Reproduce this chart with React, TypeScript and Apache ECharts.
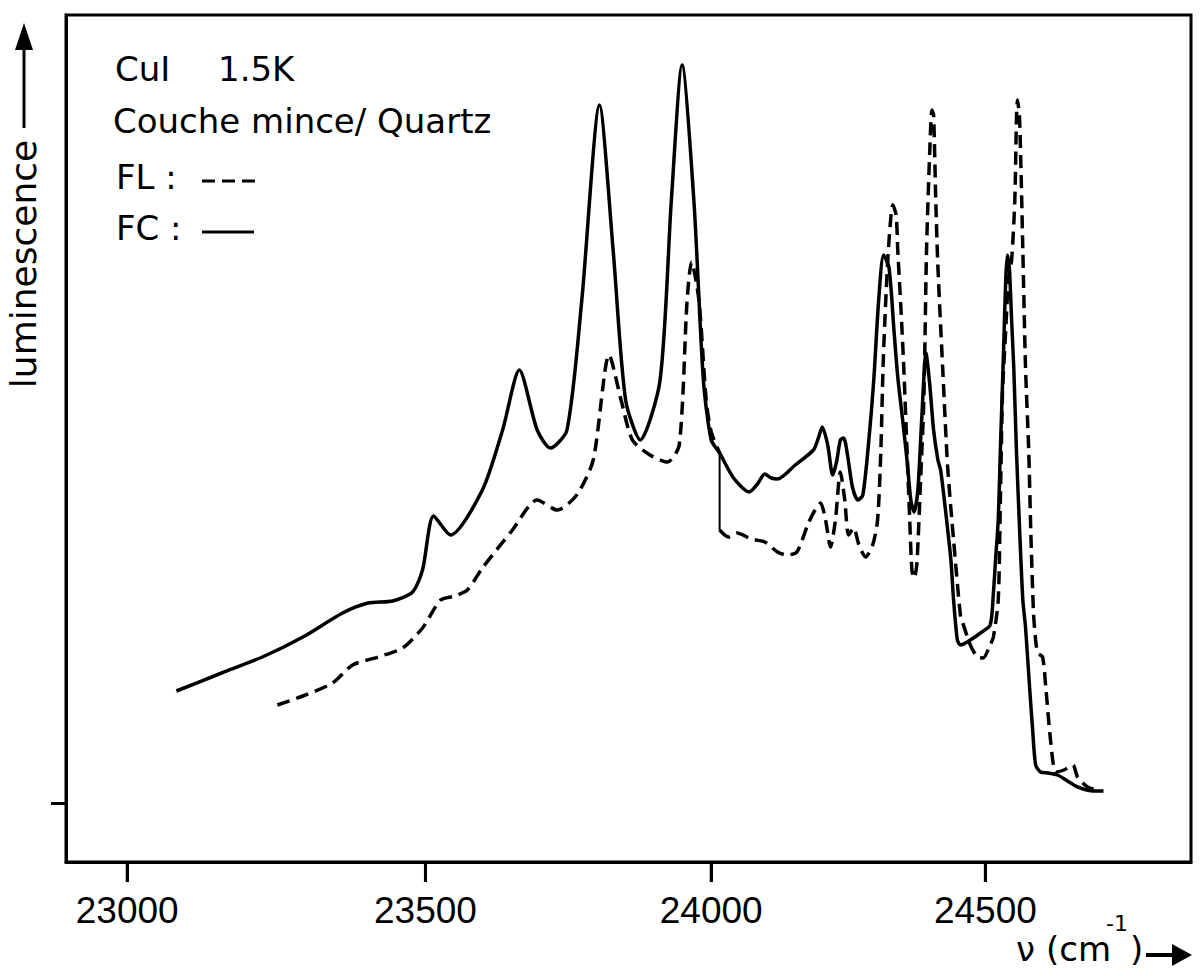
import React, { useEffect, useRef } from "react";
import * as echarts from "echarts";

// wavenumber ticks (cm-1)
const xTicks = [23000, 23500, 24000, 24500];
// luminescence zero level (the single tick on the left axis)
const yTicks = [0];

// FC (solid) : wavenumber (cm-1) and luminescence (arb. units)
const fcNu = [
  23081, 23156, 23224, 23292, 23359, 23402, 23444, 23478, 23495, 23514, 23543, 23598, 23633, 23662,
  23693, 23716, 23745, 23771, 23802, 23826, 23848, 23874, 23909, 23929, 23948, 23969, 23986, 24000,
  24015, 24040, 24068, 24083, 24096, 24108, 24119, 24151, 24184, 24193, 24200, 24210, 24219, 24226,
  24233, 24239, 24246, 24255, 24265, 24274, 24285, 24294, 24303, 24312, 24322, 24331, 24338, 24347,
  24355, 24362, 24368, 24375, 24382, 24390, 24397, 24404, 24412, 24417, 24426, 24436, 24441, 24448,
  24454, 24472, 24491, 24509, 24515, 24519, 24524, 24528, 24534, 24538, 24541, 24545, 24549, 24553,
  24558, 24564, 24570, 24575, 24583, 24588, 24594, 24603, 24617, 24635, 24654, 24673, 24703, 24722,
];
const fcLum = [
  112, 130, 146, 166, 190, 200, 202, 211, 233, 287, 268, 313, 373, 433,
  373, 355, 373, 503, 698, 553, 403, 363, 423, 603, 738, 603, 423, 363,
  350, 325, 311, 319, 329, 325, 324, 338, 353, 365, 376, 358, 328, 341,
  363, 365, 348, 316, 303, 308, 363, 423, 503, 548, 535, 473, 426, 383,
  343, 303, 291, 313, 383, 450, 418, 373, 343, 333, 293, 243, 203, 163,
  158, 163, 170, 178, 210, 243, 283, 353, 453, 523, 548, 533, 483, 436,
  353, 273, 203, 176, 113, 76, 38, 31, 30, 28, 22, 16, 12, 12,
];

// FL (dashed) ; null marks the recording jump
const flNu = [
  23249, 23292, 23342, 23376, 23419, 23461, 23495, 23526, 23550, 23572, 23598, 23650, 23693, 23728,
  23762, 23791, 23819, 23840, 23860, 23891, 23922, 23943, 23957, 23965, 23978, 23991, 24000, 24015,
  24015,
  24015, 24031, 24046, 24072, 24096, 24119, 24136, 24154, 24175, 24187, 24197, 24206, 24215, 24224,
  24233, 24241, 24248, 24257, 24267, 24279, 24292, 24301, 24307, 24311, 24316, 24322, 24329, 24335,
  24338, 24344, 24349, 24355, 24360, 24364, 24368, 24373, 24380, 24386, 24391, 24397, 24401, 24404,
  24408, 24412, 24421, 24430, 24441, 24454, 24458, 24472, 24485, 24496, 24509, 24515, 24524, 24528,
  24532, 24538, 24543, 24549, 24555, 24558, 24560, 24564, 24570, 24575, 24581, 24585, 24590, 24594,
  24598, 24607, 24613, 24622, 24632, 24647, 24664, 24673, 24692, 24716,
];
const flLum = [
  98, 107, 120, 138, 146, 155, 175, 203, 207, 213, 235, 273, 303, 293,
  308, 343, 448, 403, 363, 348, 341, 358, 503, 541, 503, 403, 371, 350,
  null,
  273, 266, 270, 264, 261, 251, 248, 251, 280, 293, 300, 283, 256, 283,
  331, 303, 268, 275, 258, 246, 258, 283, 353, 436, 503, 563, 598, 588,
  553, 493, 436, 353, 283, 233, 225, 238, 323, 403, 553, 653, 693, 688,
  603, 536, 433, 336, 263, 186, 180, 158, 146, 145, 158, 166, 203, 303,
  410, 473, 523, 543, 603, 683, 703, 683, 553, 436, 353, 270, 190, 163,
  150, 146, 116, 63, 31, 33, 38, 26, 16, 12,
];

// thin vertical connector of the FL trace
const jumpNu = [24015, 24015];
const jumpLum = [350, 273];

// the frame's lower edge lies 59 units below the luminescence zero
const Y_BELOW_ZERO = 59;
const Y_ABOVE_ZERO = 788;

const TICK_FONT = "'Liberation Sans', 'Noto Sans', sans-serif";
const TEXT_FONT = "'DejaVu Sans', 'Noto Sans', sans-serif";

export default function App() {
  const ref = useRef<HTMLDivElement>(null);

  useEffect(() => {
    if (!ref.current) return;
    const chart = echarts.init(ref.current, null, { renderer: "svg" });
    const lam = (nu: number) => 1e7 / nu; // axis is linear in wavelength
    const yv = (v: number) => v + Y_BELOW_ZERO; // axis counted from the frame's bottom
    const pts = (nu: number[], v: (number | null)[]) =>
      nu.map((n, i) => (v[i] == null ? [lam(n), "-"] : [lam(n), yv(v[i] as number)]));

    const staticGraphics: any[] = [
      { type: "text", left: 115, top: 52, style: { text: "CuI", font: `34px ${TEXT_FONT}`, fill: "#000" } },
      { type: "text", left: 218, top: 52, style: { text: "1.5K", font: `34px ${TEXT_FONT}`, fill: "#000" } },
      { type: "text", left: 113, top: 104, style: { text: "Couche mince/ Quartz", font: `34px ${TEXT_FONT}`, fill: "#000" } },
      { type: "text", left: 116, top: 160, style: { text: "FL :", font: `34px ${TEXT_FONT}`, fill: "#000" } },
      { type: "line", shape: { x1: 202, y1: 181, x2: 258, y2: 181 }, style: { stroke: "#000", lineWidth: 3, lineDash: [13, 7] } },
      { type: "text", left: 116, top: 211, style: { text: "FC :", font: `34px ${TEXT_FONT}`, fill: "#000" } },
      { type: "line", shape: { x1: 202, y1: 232, x2: 254, y2: 232 }, style: { stroke: "#000", lineWidth: 3 } },
      {
        type: "text",
        x: 23,
        y: 264,
        rotation: Math.PI / 2,
        style: { text: "luminescence", font: `36px ${TEXT_FONT}`, fill: "#000", align: "center", verticalAlign: "middle" },
      },
      { type: "line", shape: { x1: 24, y1: 128, x2: 24, y2: 45 }, style: { stroke: "#000", lineWidth: 3 } },
      { type: "polygon", shape: { points: [[24, 23], [15, 50], [33, 50]] }, style: { fill: "#000" } },
      { type: "text", left: 1016, top: 932, style: { text: "ν", font: `34px ${TEXT_FONT}`, fill: "#000" } },
      { type: "text", left: 1046, top: 932, style: { text: "(cm", font: `34px ${TEXT_FONT}`, fill: "#000" } },
      { type: "text", left: 1106, top: 912, style: { text: "-1", font: `22px ${TEXT_FONT}`, fill: "#000" } },
      { type: "text", left: 1130, top: 932, style: { text: ")", font: `34px ${TEXT_FONT}`, fill: "#000" } },
      { type: "line", shape: { x1: 1146, y1: 955, x2: 1176, y2: 955 }, style: { stroke: "#000", lineWidth: 4 } },
      { type: "polygon", shape: { points: [[1192, 955], [1172, 944], [1172, 966]] }, style: { fill: "#000" } },
    ];

    const option: any = {
      animation: false,
      backgroundColor: "#ffffff",
      grid: {
        left: 66,
        right: 9,
        top: 15,
        bottom: 114,
        show: true,
        borderColor: "#000",
        borderWidth: 3,
      },
      xAxis: {
        type: "value",
        inverse: true,
        min: lam(24889),
        max: lam(22900),
        axisLine: { show: true, lineStyle: { color: "#000", width: 3 } },
        axisTick: {
          show: true,
          length: 20,
          lineStyle: { color: "#000", width: 3 },
          customValues: xTicks.map(lam),
        },
        axisLabel: {
          show: true,
          margin: 30,
          color: "#000",
          fontSize: 37,
          fontFamily: TICK_FONT,
          customValues: xTicks.map(lam),
          formatter: (v: number) => String(Math.round(1e7 / v)),
        },
        splitLine: { show: false },
      },
      yAxis: {
        type: "value",
        min: 0,
        max: Y_BELOW_ZERO + Y_ABOVE_ZERO,
        axisLine: { show: true, lineStyle: { color: "#000", width: 3 } },
        axisTick: {
          show: true,
          length: 15,
          lineStyle: { color: "#000", width: 3 },
          customValues: yTicks.map(yv),
        },
        axisLabel: { show: false },
        splitLine: { show: false },
      },
      graphic: staticGraphics,
      series: [
        {
          name: "FC",
          type: "line",
          data: pts(fcNu, fcLum),
          showSymbol: false,
          smooth: 0.25,
          lineStyle: { color: "#000", width: 3.5 },
        },
        {
          name: "FL",
          type: "line",
          data: pts(flNu, flLum),
          showSymbol: false,
          smooth: 0.25,
          connectNulls: false,
          lineStyle: { color: "#000", width: 3.5, type: [13, 7] },
        },
        {
          name: "FL jump",
          type: "line",
          data: pts(jumpNu, jumpLum),
          showSymbol: false,
          lineStyle: { color: "#000", width: 2 },
        },
      ],
    };
    chart.setOption(option);

    // x-axis tick marks placed through the axis scale (drawn below the frame)
    try {
      const tickGraphics: any[] = [];
      xTicks.forEach((t) => {
        const p = chart.convertToPixel({ seriesIndex: 0 }, [lam(t), 0]) as any;
        if (p && isFinite(p[0]) && isFinite(p[1])) {
          tickGraphics.push({
            type: "rect",
            shape: { x: p[0] - 1.5, y: p[1], width: 3, height: 20 },
            style: { fill: "#000" },
            z: 100,
          });
        }
      });
      if (tickGraphics.length) {
        chart.setOption({ graphic: [...staticGraphics, ...tickGraphics] });
      }
    } catch (e) {
      // keep the chart as it is
    }

    return () => chart.dispose();
  }, []);

  return (
    <div
      ref={ref}
      style={{ position: "absolute", left: 0, top: 0, width: 1200, height: 976, background: "#fff" }}
    />
  );
}
